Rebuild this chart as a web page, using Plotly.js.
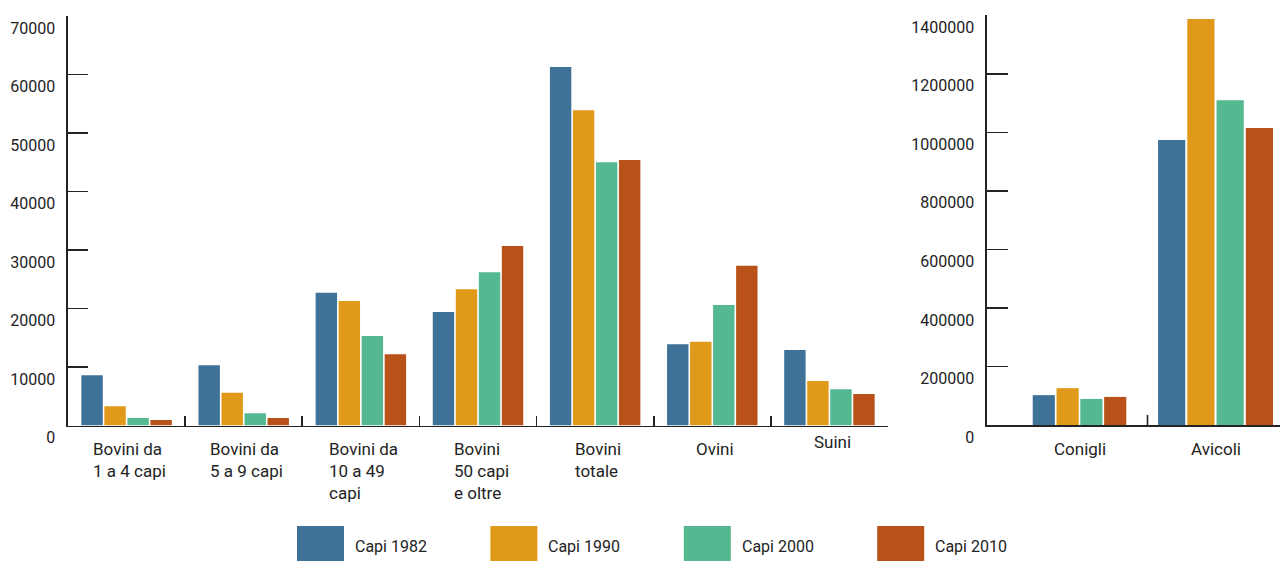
<!DOCTYPE html>
<html><head><meta charset="utf-8">
<script src="https://cdn.plot.ly/plotly-3.0.1.min.js"></script>
<style>html,body{margin:0;padding:0;background:#fff;overflow:hidden}</style>
</head><body><div id="chart" style="width:1280px;height:561px"></div>
<script>
// ---- data ----
const categoriesLeft = ["Bovini da 1 a 4 capi", "Bovini da 5 a 9 capi", "Bovini da 10 a 49 capi", "Bovini 50 capi e oltre", "Bovini totale", "Ovini", "Suini"];
const labelsLeft = ["Bovini da<br>1 a 4 capi", "Bovini da<br>5 a 9 capi", "Bovini da<br>10 a 49<br>capi", "Bovini<br>50 capi<br>e oltre", "Bovini<br>totale", "Ovini", "Suini"];
const categoriesRight = ["Conigli", "Avicoli"];
const labelsRight = ["Conigli", "Avicoli"];

const capi1982Left = [8600, 10300, 22700, 19400, 61300, 13900, 12900];
const capi1990Left = [3300, 5600, 21300, 23300, 53900, 14300, 7600];
const capi2000Left = [1300, 2100, 15300, 26200, 45000, 20600, 6200];
const capi2010Left = [950, 1300, 12200, 30700, 45400, 27300, 5400];

const capi1982Right = [102000, 974000];
const capi1990Right = [126000, 1387000];
const capi2000Right = [89000, 1110000];
const capi2010Right = [96000, 1015000];

const seriesNames = ["Capi 1982", "Capi 1990", "Capi 2000", "Capi 2010"];
const leftTickVals = [0, 10000, 20000, 30000, 40000, 50000, 60000, 70000];
const rightTickVals = [0, 200000, 400000, 600000, 800000, 1000000, 1200000, 1400000];

// ---- style ----
const colors = ["#3f7298", "#e09918", "#54b890", "#b85218"];
const W = 1280, H = 561;
const FONT = "Roboto, 'Noto Sans', sans-serif";
const INK = "#232323";
const groupGap = 0.07;
const rightGroupWidths = [0.70, 0.86];
const labelYShift = {"Suini": 7};

const leftSeries = [capi1982Left, capi1990Left, capi2000Left, capi2010Left];
const rightSeries = [capi1982Right, capi1990Right, capi2000Right, capi2010Right];

const traces = [];
leftSeries.forEach((vals, i) => {
  traces.push({type: "bar", name: seriesNames[i], x: categoriesLeft, y: vals,
    xaxis: "x", yaxis: "y", marker: {color: colors[i]}, showlegend: false, hoverinfo: "x+y+name"});
});
rightSeries.forEach((vals, i) => {
  const offs = rightGroupWidths.map(gw => -gw / 2 + i * gw / 4 + (gw / 4) * groupGap / 2);
  const wids = rightGroupWidths.map(gw => (gw / 4) * (1 - groupGap));
  traces.push({type: "bar", name: seriesNames[i], x: categoriesRight, y: vals,
    xaxis: "x2", yaxis: "y2", offset: offs, width: wids,
    marker: {color: colors[i]}, showlegend: false, hoverinfo: "x+y+name"});
});

const px = v => v / W;
const py = v => (H - v) / H;

const axisCommon = {showgrid: false, zeroline: false, showline: true, linecolor: INK, linewidth: 1.6,
  tickcolor: INK, tickwidth: 1.6, fixedrange: true};

const annotations = [];
categoriesLeft.forEach((c, i) => annotations.push({xref: "x", yref: "paper", x: c, y: py(437),
  xanchor: "center", yanchor: "top", align: "left", showarrow: false, text: labelsLeft[i],
  xshift: 3, yshift: labelYShift[c] || 0, font: {family: FONT, size: 17, color: INK}}));
categoriesRight.forEach((c, i) => annotations.push({xref: "x2", yref: "paper", x: c, y: py(437),
  xanchor: "center", yanchor: "top", align: "left", showarrow: false, text: labelsRight[i],
  font: {family: FONT, size: 17, color: INK}}));

const shapes = [{type: "line", xref: "x2", yref: "y2", x0: 0.5, x1: 0.5, ysizemode: "pixel", yanchor: 0,
  y0: 0, y1: 10, line: {color: INK, width: 1.6}}];
const legendStart = 297, legendStep = 193.4, swW = 47, swTop = 526, swBot = 561;
seriesNames.forEach((n, i) => {
  const x0 = legendStart + i * legendStep;
  shapes.push({type: "rect", xref: "paper", yref: "paper", x0: px(x0), x1: px(x0 + swW), y0: py(swBot), y1: py(swTop),
    fillcolor: colors[i], line: {width: 0}});
  annotations.push({xref: "paper", yref: "paper", x: px(x0 + swW + 9), y: py(546), xanchor: "left", yanchor: "middle",
    showarrow: false, text: n, font: {family: FONT, size: 16, color: INK}});
});

const layout = {
  width: W, height: H, margin: {l: 0, r: 0, t: 0, b: 0}, paper_bgcolor: "#fff", plot_bgcolor: "#fff",
  barmode: "group", bargap: 0.214, bargroupgap: groupGap, showlegend: false,
  font: {family: FONT, size: 16, color: INK},
  xaxis: Object.assign({}, axisCommon, {domain: [px(68), px(888)], anchor: "y", type: "category",
    categoryorder: "array", categoryarray: categoriesLeft, range: [-0.5, 6.5],
    ticks: "inside", tickson: "boundaries", ticklen: 10, showticklabels: false}),
  yaxis: Object.assign({}, axisCommon, {domain: [py(425.5), py(16)], anchor: "x", range: [0, 70000],
    tickmode: "array", tickvals: leftTickVals, tickformat: "d", ticks: "inside", ticklen: 20,
    ticklabelposition: "outside bottom", ticklabelstandoff: 8,
    tickfont: {family: FONT, size: 16, color: INK}}),
  xaxis2: Object.assign({}, axisCommon, {domain: [px(987), 1], anchor: "y2", type: "category",
    categoryorder: "array", categoryarray: categoriesRight, range: [-0.68, 1.474],
    ticks: "", showticklabels: false}),
  yaxis2: Object.assign({}, axisCommon, {domain: [py(425), py(15.3)], anchor: "x2", range: [0, 1400000],
    tickmode: "array", tickvals: rightTickVals, tickformat: "d", ticks: "inside", ticklen: 21,
    ticklabelposition: "outside bottom", ticklabelstandoff: 8,
    tickfont: {family: FONT, size: 16, color: INK}}),
  annotations: annotations, shapes: shapes
};

Plotly.newPlot("chart", traces, layout, {displayModeBar: false, staticPlot: true});
</script>
</body></html>
